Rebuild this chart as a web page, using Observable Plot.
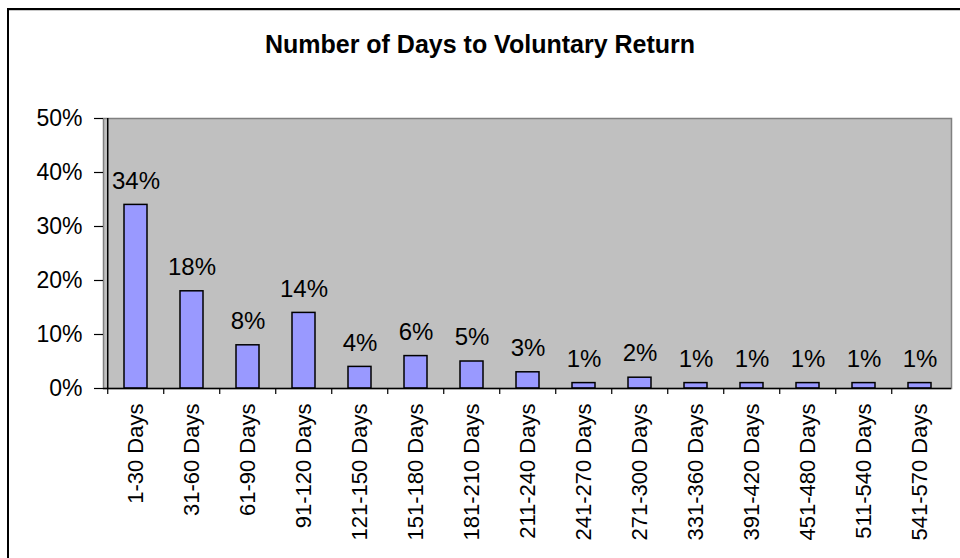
<!DOCTYPE html>
<html>
<head>
<meta charset="utf-8">
<script src="https://cdn.jsdelivr.net/npm/d3@7"></script>
<script src="https://cdn.jsdelivr.net/npm/@observablehq/plot@0.6"></script>
<style>
  html, body { margin: 0; padding: 0; background: #fff; }
  #wrap { position: relative; width: 960px; height: 558px; overflow: hidden; background: #fff; font-family: "Liberation Sans", Arial, sans-serif; }
  #frame { position: absolute; left: 7px; top: 8px; width: 1000px; height: 600px; border-left: 2px solid #000; border-top: 2px solid #000; box-shadow: inset 0 1px 0 #c8c8c8; }
  #title { position: absolute; left: 0; width: 960px; top: 30px; text-align: center; font-weight: bold; font-size: 25px; color: #000; letter-spacing: 0px; }
  #chart { position: absolute; left: 0; top: 0; }
</style>
</head>
<body>
<div id="wrap">
  <div id="frame"></div>
  <div id="title">Number of Days to Voluntary Return</div>
  <div id="chart"></div>
</div>
<script>
const categories = ["1-30 Days","31-60 Days","61-90 Days","91-120 Days","121-150 Days","151-180 Days","181-210 Days","211-240 Days","241-270 Days","271-300 Days","331-360 Days","391-420 Days","451-480 Days","511-540 Days","541-570 Days"];
const values = [34, 18, 8, 14, 4, 6, 5, 3, 1, 2, 1, 1, 1, 1, 1];
const yTicks = [0, 10, 20, 30, 40, 50];

const data = categories.map((c, i) => ({category: c, value: values[i]}));

const W = 960, H = 558;
const mL = 103, mR = 9, mT = 118, mB = 170;
const step = (W - mL - mR) / categories.length;

const chart = Plot.plot({
  width: W,
  height: H,
  marginLeft: mL,
  marginRight: mR,
  marginTop: mT,
  marginBottom: mB,
  style: {fontFamily: "'Liberation Sans', Arial, sans-serif", background: "transparent", color: "#000"},
  x: {domain: categories, paddingInner: 0.59, paddingOuter: 0.295, align: 0.5, label: null},
  y: {domain: [0, 50], label: null},
  marks: [
    Plot.frame({fill: "#C0C0C0", stroke: "#808080", strokeWidth: 1.5}),
    Plot.barY(data, {x: "category", y: "value", fill: "#9999FF", stroke: "#000", strokeWidth: 1.5}),
    Plot.text(data, {x: "category", y: "value", text: d => d.value + "%", dy: -24, fontSize: 24, fill: "#000"}),
    Plot.ruleY([0], {stroke: "#000", strokeWidth: 1.5}),
    Plot.ruleX([categories[0]], {stroke: "#000", strokeWidth: 1.5, dx: -step / 2}),
    Plot.axisY({ticks: yTicks, tickFormat: d => d + "%", tickSize: 9, tickPadding: 12, fontSize: 23, stroke: "#000", strokeWidth: 1.2, label: null}),
    Plot.axisX({tickSize: 6, tickFormat: () => "", dx: -step / 2, stroke: "#000", strokeWidth: 1.2, label: null}),
    Plot.axisX({tickSize: 0, tickPadding: 15, tickRotate: -90, fontSize: 22, label: null})
  ]
});
document.getElementById("chart").appendChild(chart);
</script>
</body>
</html>
